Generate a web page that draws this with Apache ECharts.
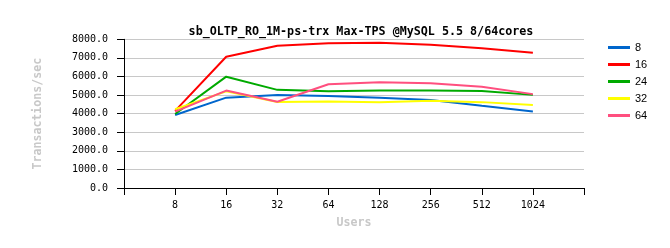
<!DOCTYPE html>
<html><head><meta charset="utf-8">
<script src="https://cdn.jsdelivr.net/npm/echarts@6/dist/echarts.min.js"></script>
<style>html,body{margin:0;padding:0;background:#fff}#c{width:670px;height:248px}</style>
</head><body><div id="c"></div>
<script>
var categories = ['8','16','32','64','128','256','512','1024'];
var seriesNames = ['8','16','24','32','64'];
var s8  = [3930, 4860, 5010, 4950, 4860, 4740, 4420, 4110];
var s16 = [4150, 7064, 7655, 7790, 7815, 7710, 7520, 7280];
var s24 = [3980, 5990, 5280, 5210, 5240, 5240, 5220, 5010];
var s32 = [4240, 5200, 4630, 4650, 4620, 4690, 4620, 4470];
var s64 = [4110, 5240, 4640, 5580, 5690, 5640, 5450, 5050];
var yTicks = [0,1000,2000,3000,4000,5000,6000,7000,8000];
var colors = ['#0066cc','#ff0000','#00aa00','#ffff00','#ff4f7f'];
var allData = [s8,s16,s24,s32,s64];

var chart = echarts.init(document.getElementById('c'), null, {renderer:'canvas'});
var mono = 'DejaVu Sans Mono';
chart.setOption({
  animation:false,
  title:{text:'sb_OLTP_RO_1M-ps-trx Max-TPS @MySQL 5.5 8/64cores', left:356, textAlign:'center', top:21,
    textStyle:{fontFamily:mono, fontSize:11.7, fontWeight:'bold', color:'#000'}},
  legend:{orient:'vertical', left:603, top:36.5, icon:'rect', itemWidth:22, itemHeight:3, itemGap:5,
    textStyle:{fontFamily:'Liberation Sans', fontSize:11, color:'#000', lineHeight:12},
    data:seriesNames},
  grid:{left:124, right:86, top:39.3, bottom:60},
  xAxis:{type:'value', min:0, max:9, interval:1,
    name:'Users', nameLocation:'middle', nameGap:29,
    nameTextStyle:{fontFamily:mono, fontSize:11.6, fontWeight:'bold', color:'#c8c8c8'},
    axisLine:{show:true, onZero:false, lineStyle:{color:'#000', width:1}},
    axisTick:{show:true, length:7, lineStyle:{color:'#000'}},
    splitLine:{show:false},
    axisLabel:{margin:12, fontFamily:mono, fontSize:10, color:'#000',
      formatter:function(v){ return (v>=1 && v<=categories.length) ? categories[v-1] : ''; }}},
  yAxis:{type:'value', min:yTicks[0], max:yTicks[yTicks.length-1], interval:1000,
    name:'Transactions/sec', nameLocation:'middle', nameGap:80,
    nameTextStyle:{fontFamily:mono, fontSize:11.6, fontWeight:'bold', color:'#c8c8c8'},
    axisLine:{show:true, lineStyle:{color:'#000', width:1}},
    axisTick:{show:true, length:7, lineStyle:{color:'#000'}},
    splitLine:{show:true, lineStyle:{color:'#c8c8c8', width:1}},
    axisLabel:{margin:16, fontFamily:mono, fontSize:10, color:'#000',
      formatter:function(v){ return v.toFixed(1); }}},
  series: seriesNames.map(function(n,i){
    return {name:n, type:'line', symbol:'none', color:colors[i],
      lineStyle:{width:2, color:colors[i]},
      data: allData[i].map(function(v,j){ return [j+1, v]; })};
  })
});
</script></body></html>
